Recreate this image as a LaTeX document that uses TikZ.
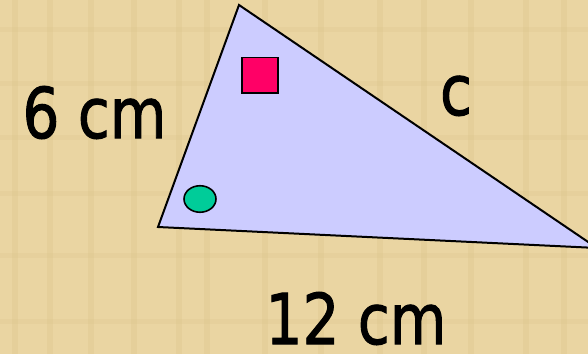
\documentclass[tikz,border=0pt]{standalone}
\usepackage{fontspec}
\setmainfont{DejaVu Sans}
\newfontfamily\lblfont[FakeBold=1.6]{DejaVu Sans}
\usetikzlibrary{shapes.geometric}
\definecolor{parch}{HTML}{EAD5A2}
\definecolor{parchdark}{HTML}{DCC48C}
\definecolor{trifill}{HTML}{CCCCFF}
\definecolor{sqfill}{HTML}{FF0066}
\definecolor{elfill}{HTML}{00CC99}
\tikzset{
  lbl/.style={anchor=base, inner sep=0pt, font=\fontsize{70}{70}\lblfont, xscale=0.83, transform shape},
  mark shape/.style={draw=black, line width=1.6pt}
}
\begin{document}
\begin{tikzpicture}[x=1pt,y=1pt]
\useasboundingbox (0,0) rectangle (588,354);
\fill[parch] (0,0) rectangle (588,354);
\begin{scope}
\clip (0,0) rectangle (588,354);
\foreach \xx in {12,47,88,131,176,204,262,318,377,421,468,523,561}{
  \fill[parchdark, opacity=0.35] (\xx,0) rectangle ++(6,354);
}
\foreach \yy in {30,96,158,214,268,322}{
  \fill[parchdark, opacity=0.25] (0,\yy) rectangle ++(588,5);
}
\coordinate (A) at (239,349);
\coordinate (B) at (158,127);
\coordinate (C) at (597,106);
\filldraw[fill=trifill, draw=black, line width=2pt, line join=miter] (A) -- (B) -- (C) -- cycle;
\end{scope}
\node[mark shape, fill=sqfill, minimum width=36pt, minimum height=35.5pt, inner sep=0pt] (sq) at (260,278.8) {};
\node[mark shape, fill=elfill, ellipse, minimum width=32pt, minimum height=26.5pt, inner sep=0pt] (el) at (200,155) {};
\node[lbl] (six) at (94.5,216) {6 cm};
\node[lbl] (twelve) at (356,10) {12 cm};
\node[lbl] (c) at (456,239) {c};
\end{tikzpicture}
\end{document}
